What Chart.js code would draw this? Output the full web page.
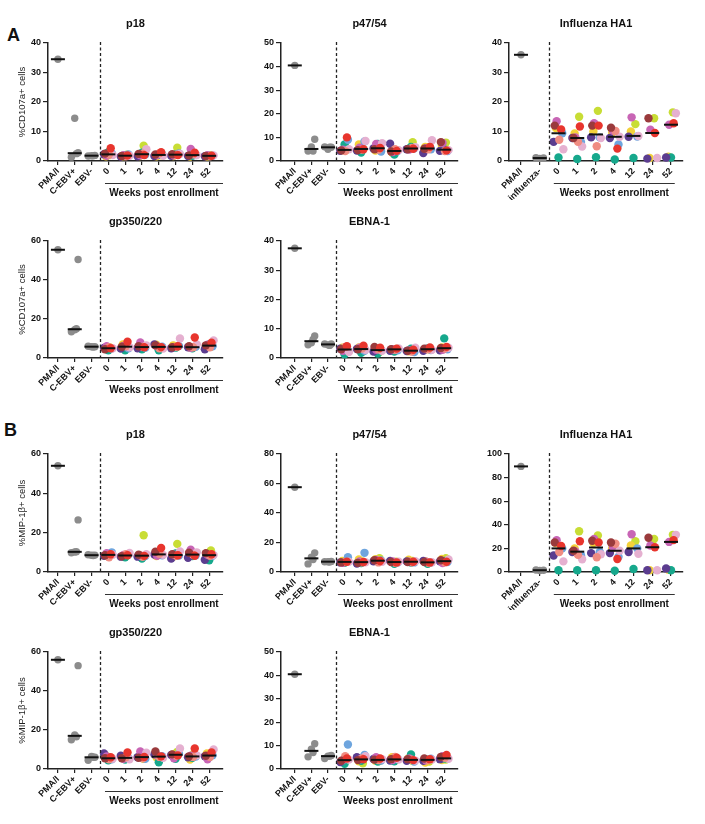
<!DOCTYPE html>
<html><head><meta charset="utf-8">
<script src="https://cdn.jsdelivr.net/npm/chart.js@4.4.1/dist/chart.umd.min.js"></script>
<style>
body{margin:0;background:#fff;}
#wrap{position:relative;width:705px;height:824px;overflow:hidden;font-family:"Liberation Sans",Arial,sans-serif;background:#fff;}
canvas{position:absolute;}
.lbl{position:absolute;font-weight:bold;font-size:18px;line-height:1;color:#111;}
</style></head><body><div id="wrap">
<div class="lbl" style="left:7px;top:26px">A</div>
<div class="lbl" style="left:4px;top:421px">B</div>
</div>
<script>
// ---------- categories ----------
const weekLabels = ["0","1","2","4","12","24","52"];
const ebvCtrlLabels = ["PMA/I","C-EBV+","EBV-"];
const fluCtrlLabels = ["PMA/I","influenza-"];
const participants = ["P1","P2","P3","P4","P5","P6","P7","P8","P9","P10"];

// ---------- A: %CD107a+ cells ----------
const aP18Pma = [34.5];
const aP18CEbvPos = [14.5, 2.8, 1.3, 2.5];
const aP18EbvNeg = [1.8, 1.9, 1.7, 1.8];
const aP18Weeks = [
  [4.3,2.5,2.2,2.0,1.8,2.3,2.6,3.0,1.6,2.0],
  [1.9,1.7,1.6,1.8,2.0,1.5,2.2,1.8,1.6,2.1],
  [2.0,2.4,2.5,4.0,1.9,1.6,2.2,2.8,1.7,5.2],
  [3.0,2.2,2.6,1.8,2.0,1.7,2.3,2.1,1.6,1.9],
  [2.0,2.3,2.1,2.4,1.9,1.8,2.6,2.2,1.7,4.5],
  [2.8,1.9,2.3,2.0,4.1,1.7,2.0,1.8,1.5,2.2],
  [1.8,1.7,1.6,1.9,2.0,1.6,1.8,1.7,1.5,1.9]
];

const aP47Pma = [40.5];
const aP47CEbvPos = [6.0, 9.2, 4.2, 4.2];
const aP47EbvNeg = [5.0, 5.8, 6.0, 5.8];
const aP47Weeks = [
  [10.0,4.5,4.2,5.0,4.8,4.3,9.0,7.0,4.5,4.6],
  [5.0,4.6,4.8,8.5,5.6,4.4,8.3,3.6,7.0,5.2],
  [5.5,5.0,4.8,7.5,7.2,5.3,4.0,7.2,4.4,5.8],
  [4.3,4.0,5.0,4.6,3.8,7.3,4.2,2.7,3.6,4.4],
  [5.2,5.0,5.5,5.8,4.9,5.0,5.4,6.0,5.2,8.0],
  [6.0,5.2,5.0,8.8,5.4,3.4,5.0,5.2,6.0,5.8],
  [4.5,8.0,4.2,4.6,7.6,4.3,4.2,5.0,6.5,7.8]
];

const aFluPma = [36.0];
const aFluNeg = [0.9, 1.0, 1.1];
const aFluWeeks = [
  [10.7,12.0,7.2,4.0,13.5,6.5,9.4,1.2,11.2,null],
  [11.7,7.8,6.5,4.9,8.0,7.8,6.4,0.7,9.3,15.0],
  [12.0,12.0,5.0,7.8,12.8,8.0,8.0,1.3,10.0,17.0],
  [4.2,11.3,10.2,8.2,10.3,7.8,5.6,0.5,9.6,null],
  [null,null,null,8.5,14.8,8.2,8.3,1.0,10.0,12.5],
  [9.5,14.5,null,1.0,10.6,0.8,null,null,1.0,14.5],
  [12.8,null,null,16.2,12.3,1.2,null,1.2,1.5,16.5]
];

const aGpPma = [55.5];
const aGpCEbvPos = [14.5, 50.5, 13.5, 15.0];
const aGpEbvNeg = [5.8, 5.8, 6.0, 5.6];
const aGpWeeks = [
  [5.0,4.5,5.5,5.0,6.0,5.2,4.8,4.0,4.6,5.4],
  [8.3,5.8,6.0,5.5,6.2,4.8,5.0,4.0,7.0,5.8],
  [5.5,6.0,5.7,6.5,8.0,5.0,5.3,4.5,6.0,5.2],
  [5.6,6.5,5.0,4.8,6.0,7.0,5.8,4.0,6.8,5.5],
  [6.0,5.5,5.8,10.0,5.6,5.0,6.2,5.3,6.5,5.8],
  [10.5,6.0,5.5,7.0,5.2,5.5,5.8,5.0,5.4,5.6],
  [7.8,6.5,5.5,9.0,6.8,4.5,6.0,7.0,6.2,5.8]
];

const aEbnaPma = [37.5];
const aEbnaCEbvPos = [5.2, 7.5, 4.5, 6.3];
const aEbnaEbvNeg = [4.5, 4.8, 4.8, 4.3];
const aEbnaWeeks = [
  [4.0,3.0,3.8,2.0,2.5,3.2,2.6,1.3,3.5,2.8],
  [4.2,3.0,3.2,2.8,3.5,3.1,2.5,1.8,3.6,2.2],
  [3.5,3.8,3.0,2.5,2.8,2.2,2.6,1.5,3.2,2.0],
  [3.2,3.0,2.8,3.3,3.0,2.5,2.6,2.2,2.9,3.1],
  [2.8,2.5,2.2,3.5,2.6,2.4,2.0,3.2,2.3,2.5],
  [3.6,3.2,3.0,2.8,3.1,2.5,2.7,3.3,2.9,3.0],
  [3.8,3.4,3.2,3.5,2.8,2.6,3.0,6.7,3.6,3.3]
];

// ---------- B: %MIP-1β+ cells ----------
const bP18Pma = [54.0];
const bP18CEbvPos = [10.2, 26.5, 9.8, 10.3];
const bP18EbvNeg = [8.5, 8.6, 8.8, 8.4];
const bP18Weeks = [
  [9.0,8.5,7.5,8.8,9.5,8.2,10.0,8.0,8.6,9.2],
  [8.5,8.0,9.0,9.7,8.7,7.8,8.9,7.5,8.2,8.3],
  [8.2,8.8,7.7,9.0,8.4,7.8,8.1,6.8,8.6,18.7],
  [12.2,10.3,9.3,8.7,8.2,8.9,8.5,9.6,8.1,9.0],
  [8.5,9.0,8.2,10.5,8.8,6.8,8.4,9.4,7.8,14.3],
  [8.3,9.8,8.7,10.0,11.3,7.2,8.5,8.1,9.0,9.2],
  [9.0,9.6,8.2,8.6,8.8,6.2,8.3,6.0,8.5,11.0]
];

const bP47Pma = [57.5];
const bP47CEbvPos = [10.0, 13.0, 5.5, 8.5];
const bP47EbvNeg = [7.0, 7.2, 7.0, 6.8];
const bP47Weeks = [
  [7.0,6.5,6.8,6.9,6.2,6.5,10.0,6.2,7.5,7.2],
  [6.8,6.2,6.5,6.6,7.2,5.8,13.0,6.0,8.5,7.0],
  [7.5,8.0,6.5,7.0,8.2,7.2,7.8,7.4,8.6,9.3],
  [6.5,6.8,6.2,7.0,7.2,7.5,6.5,5.5,6.7,6.9],
  [7.0,6.8,6.6,7.3,6.9,7.2,6.5,6.4,8.3,7.5],
  [6.5,6.8,6.2,6.6,6.9,7.5,6.4,5.5,7.3,6.1],
  [7.0,8.0,6.5,8.5,6.0,7.2,6.8,7.5,8.8,9.3]
];

const bFluPma = [89.5];
const bFluNeg = [1.3, 1.5, 1.7];
const bFluWeeks = [
  [22.0,25.0,17.0,9.0,27.0,14.0,20.0,1.5,24.5,null],
  [26.0,18.0,14.5,10.8,17.5,17.0,14.2,1.5,20.0,34.5],
  [25.0,26.5,12.5,15.0,28.0,16.0,17.0,1.5,24.5,31.0],
  [11.0,25.0,24.0,18.0,21.5,16.0,13.0,1.0,20.0,null],
  [null,null,null,15.5,32.0,17.0,20.0,2.5,22.5,26.0],
  [21.0,29.0,null,1.5,22.5,1.5,null,null,1.5,28.0],
  [27.0,null,null,31.5,25.5,3.0,null,1.5,1.8,31.5]
];

const bGpPma = [56.0];
const bGpCEbvPos = [17.5, 53.0, 15.0, 16.5];
const bGpEbvNeg = [6.5, 6.0, 4.5, 6.0];
const bGpWeeks = [
  [6.0,5.5,5.0,5.3,6.5,8.0,5.0,4.5,6.8,5.5],
  [8.5,5.5,6.0,5.0,5.2,6.8,5.6,4.8,5.8,6.6],
  [6.2,5.8,5.5,8.3,9.0,6.0,5.2,6.8,6.5,5.2],
  [6.5,9.0,6.2,5.8,7.0,7.5,6.6,3.5,6.0,5.8],
  [7.0,7.5,6.8,10.5,5.5,7.2,7.8,5.2,7.4,8.8],
  [10.5,6.5,6.2,7.0,6.8,6.0,6.4,5.8,4.8,8.0],
  [8.5,6.8,6.2,10.0,5.0,6.5,7.0,6.0,8.0,7.2]
];

const bEbnaPma = [40.5];
const bEbnaCEbvPos = [8.5, 10.8, 5.2, 7.0];
const bEbnaEbvNeg = [5.5, 5.8, 4.5, 5.5];
const bEbnaWeeks = [
  [4.5,3.5,5.5,4.0,3.8,3.0,10.5,2.2,3.2,3.8],
  [4.2,3.8,4.5,5.5,4.0,5.0,6.0,3.5,3.3,2.4],
  [4.5,4.0,3.8,4.2,5.0,4.3,3.6,3.2,3.5,3.4],
  [4.8,4.2,5.2,4.0,3.8,3.6,4.4,3.3,5.0,3.9],
  [3.8,4.2,4.0,3.6,4.5,3.5,3.2,6.2,4.6,3.4],
  [4.2,4.5,3.8,4.0,3.7,3.5,4.4,4.0,2.8,3.2],
  [6.0,5.2,4.8,4.4,5.5,4.2,4.6,4.5,3.8,4.0]
];

// ---------- styles / layout (not data) ----------
const partColors = ["#e8352d","#9a3a3c","#f08c82","#e5b0d0","#c865b5","#5b3c8f","#6ea5de","#16a88c","#f3d13a","#c8dd35"];
const partJitter = [0.14,-0.2,0.04,0.26,-0.1,-0.26,0.2,0.0,-0.14,0.1];
const ctrlJitter = [0.0,0.2,-0.2,0.1];
const FONT = '"Liberation Sans", Arial, sans-serif';

const COLS = [
  {L:0,   W:232, axisX:48,  axisEnd:225, min:-0.59, max:9.82, wStart:2.8,  wEnd:9.82},
  {L:235, W:232, axisX:281, axisEnd:461, min:-0.83, max:9.83, wStart:2.6,  wEnd:9.83},
  {L:467, W:236, axisX:509, axisEnd:683, min:-0.64, max:8.64, wStart:1.75, wEnd:8.2}
];
const ROWS = [
  {T:0,   H:200, yTop:43,  yBot:161},
  {T:200, H:205, yTop:241, yBot:358},
  {T:405, H:205, yTop:454, yBot:572},
  {T:610, H:210, yTop:652, yBot:769}
];

const panels = [
  {row:0,col:0,title:"p18",ctrlLabels:ebvCtrlLabels,ctrls:[aP18Pma,aP18CEbvPos,aP18EbvNeg],weeks:aP18Weeks,yMax:40,step:10,yTitle:"%CD107a+ cells"},
  {row:0,col:1,title:"p47/54",ctrlLabels:ebvCtrlLabels,ctrls:[aP47Pma,aP47CEbvPos,aP47EbvNeg],weeks:aP47Weeks,yMax:50,step:10},
  {row:0,col:2,title:"Influenza HA1",ctrlLabels:fluCtrlLabels,ctrls:[aFluPma,aFluNeg],weeks:aFluWeeks,yMax:40,step:10},
  {row:1,col:0,title:"gp350/220",ctrlLabels:ebvCtrlLabels,ctrls:[aGpPma,aGpCEbvPos,aGpEbvNeg],weeks:aGpWeeks,yMax:60,step:20,yTitle:"%CD107a+ cells"},
  {row:1,col:1,title:"EBNA-1",ctrlLabels:ebvCtrlLabels,ctrls:[aEbnaPma,aEbnaCEbvPos,aEbnaEbvNeg],weeks:aEbnaWeeks,yMax:40,step:10},
  {row:2,col:0,title:"p18",ctrlLabels:ebvCtrlLabels,ctrls:[bP18Pma,bP18CEbvPos,bP18EbvNeg],weeks:bP18Weeks,yMax:60,step:20,yTitle:"%MIP-1β+ cells"},
  {row:2,col:1,title:"p47/54",ctrlLabels:ebvCtrlLabels,ctrls:[bP47Pma,bP47CEbvPos,bP47EbvNeg],weeks:bP47Weeks,yMax:80,step:20},
  {row:2,col:2,title:"Influenza HA1",ctrlLabels:fluCtrlLabels,ctrls:[bFluPma,bFluNeg],weeks:bFluWeeks,yMax:100,step:20},
  {row:3,col:0,title:"gp350/220",ctrlLabels:ebvCtrlLabels,ctrls:[bGpPma,bGpCEbvPos,bGpEbvNeg],weeks:bGpWeeks,yMax:60,step:20,yTitle:"%MIP-1β+ cells"},
  {row:3,col:1,title:"EBNA-1",ctrlLabels:ebvCtrlLabels,ctrls:[bEbnaPma,bEbnaCEbvPos,bEbnaEbvNeg],weeks:bEbnaWeeks,yMax:50,step:10}
];

function median(arr){
  const v = arr.filter(x => x !== null && x !== undefined).slice().sort((a,b)=>a-b);
  if (!v.length) return null;
  const m = Math.floor(v.length/2);
  return v.length % 2 ? v[m] : (v[m-1]+v[m])/2;
}

const decoPlugin = {
  id:'deco',
  afterDraw(chart){
    const o = chart.options.plugins.deco;
    const {ctx, chartArea:a} = chart;
    const xs = chart.scales.x;
    ctx.save();
    // dashed separator
    const dx = Math.round(xs.getPixelForValue(o.nCtrl - 0.5)) + 0.5;
    ctx.strokeStyle = '#222'; ctx.lineWidth = 1.3; ctx.setLineDash([3,2.5]);
    ctx.beginPath(); ctx.moveTo(dx, a.top - 1); ctx.lineTo(dx, a.bottom); ctx.stroke();
    ctx.setLineDash([]);
    // title
    ctx.fillStyle = '#111';
    ctx.font = 'bold 11px ' + FONT;
    ctx.textAlign = 'center'; ctx.textBaseline = 'middle';
    ctx.fillText(o.title, (a.left + a.right)/2, a.top - 19);
    // weeks bracket
    const x1 = xs.getPixelForValue(o.wStart), x2 = xs.getPixelForValue(o.wEnd);
    const ly = Math.round(a.bottom + 22) + 0.5;
    ctx.strokeStyle = '#333'; ctx.lineWidth = 1.2;
    ctx.beginPath(); ctx.moveTo(x1, ly); ctx.lineTo(x2, ly); ctx.stroke();
    ctx.font = 'bold 10px ' + FONT;
    ctx.fillText('Weeks post enrollment', (x1 + x2)/2, a.bottom + 32);
    ctx.restore();
  }
};

const wrap = document.getElementById('wrap');
panels.forEach(p => {
  const c = COLS[p.col], r = ROWS[p.row];
  const labels = p.ctrlLabels.concat(weekLabels);
  const nCtrl = p.ctrlLabels.length;
  const cv = document.createElement('canvas');
  cv.width = c.W; cv.height = r.H;
  cv.style.left = c.L + 'px'; cv.style.top = r.T + 'px';
  cv.style.width = c.W + 'px'; cv.style.height = r.H + 'px';
  wrap.appendChild(cv);

  const datasets = [];
  // medians (first => drawn on top)
  const medPts = [];
  p.ctrls.forEach((vals, i) => medPts.push({x:i, y:median(vals)}));
  p.weeks.forEach((vals, k) => medPts.push({x:nCtrl + k, y:median(vals)}));
  datasets.push({label:'median', data:medPts, pointStyle:'line', pointRadius:7, pointBorderWidth:2,
    pointBorderColor:'#111', pointBackgroundColor:'#111', clip:false});
  // participants
  participants.forEach((name, pi) => {
    const pts = [];
    p.weeks.forEach((vals, k) => { if (vals[pi] !== null) pts.push({x:nCtrl + k + partJitter[pi], y:vals[pi]}); });
    datasets.push({label:name, data:pts, pointRadius:4.2, pointBorderWidth:0,
      pointBackgroundColor:partColors[pi], pointBorderColor:partColors[pi], clip:false});
  });
  // controls
  const ctrlPts = [];
  p.ctrls.forEach((vals, i) => vals.forEach((v, j) => ctrlPts.push({x:i + (vals.length > 1 ? ctrlJitter[j] : 0), y:v})));
  datasets.push({label:'controls', data:ctrlPts, pointRadius:3.7, pointBorderWidth:0,
    pointBackgroundColor:'#8c8c8c', pointBorderColor:'#8c8c8c', clip:false});

  new Chart(cv, {
    type:'scatter',
    data:{datasets},
    options:{
      animation:false, responsive:false, devicePixelRatio:1, events:[],
      layout:{padding:{left:0, top:r.yTop - r.T, right:c.L + c.W - c.axisEnd, bottom:0}},
      plugins:{legend:{display:false}, tooltip:{enabled:false},
        deco:{title:p.title, nCtrl, wStart:c.wStart, wEnd:c.wEnd}},
      scales:{
        x:{type:'linear', min:c.min, max:c.max,
          afterBuildTicks:s => { s.ticks = labels.map((_, i) => ({value:i})); },
          afterFit:s => { s.height = r.T + r.H - r.yBot; },
          ticks:{autoSkip:false, minRotation:45, maxRotation:45, padding:1, color:'#111',
            font:{family:FONT, weight:'bold', size:9},
            callback:v => labels[Math.round(v)]},
          grid:{drawOnChartArea:false, drawTicks:true, tickLength:4, color:'#222', lineWidth:1.2},
          border:{display:true, color:'#222', width:1.5}},
        y:{min:0, max:p.yMax,
          afterFit:s => { s.width = c.axisX - c.L; },
          ticks:{stepSize:p.step, padding:2, color:'#111', font:{family:FONT, weight:'bold', size:9}},
          grid:{drawOnChartArea:false, drawTicks:true, tickLength:5, color:'#222', lineWidth:1.2},
          border:{display:true, color:'#222', width:1.5},
          title:{display:!!p.yTitle, text:p.yTitle || '', color:'#222',
            font:{family:FONT, size:9.5}, padding:{top:17, bottom:0}}}
      }
    },
    plugins:[decoPlugin]
  });
});
</script>
</body></html>
